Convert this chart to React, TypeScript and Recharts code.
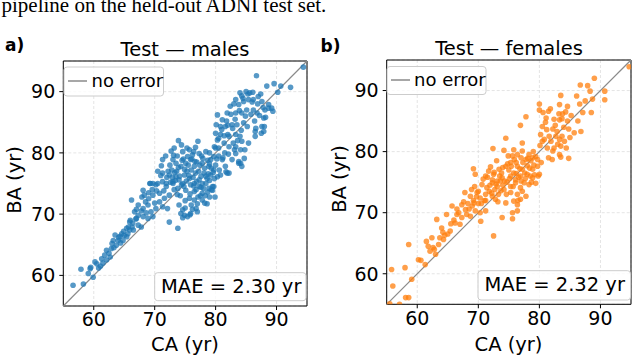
import React from 'react';
import { ScatterChart, Scatter, XAxis, YAxis, CartesianGrid, ReferenceLine, ReferenceArea } from 'recharts';

const axisTicks = [60, 70, 80, 90];
const axisDomain: [number, number] = [55, 95];

const maleCA = [
  56.6, 57.9, 58.3, 59.4, 59.1, 59.9, 59.5, 60.2, 60.5, 61.1, 61.3, 61.8, 62.1, 62.1, 62.7, 62.9, 63.2, 63.5, 63.7, 64.0,
  64.3, 64.6, 64.8, 65.4, 65.4, 65.7, 65.9, 65.9, 66.2, 66.4, 66.5, 66.7, 67.3, 67.3, 67.3, 67.8, 68.1, 68.1, 68.1, 68.3,
  68.9, 68.9, 69.2, 69.3, 69.4, 69.7, 69.7, 69.7, 70.2, 70.2, 70.5, 70.8, 71.1, 71.3, 71.3, 71.3, 71.3, 71.6, 71.9, 71.9,
  72.1, 72.4, 72.4, 72.4, 73.0, 73.0, 73.0, 73.5, 73.5, 73.8, 73.8, 73.9, 74.0, 74.0, 74.3, 74.3, 74.6, 74.6, 74.6, 74.9,
  74.9, 75.1, 75.1, 75.4, 75.4, 75.7, 75.7, 75.7, 75.9, 75.9, 75.9, 76.2, 76.5, 76.5, 76.5, 76.5, 76.7, 76.7, 77.0, 77.0,
  77.1, 77.3, 77.3, 77.3, 77.8, 77.8, 77.8, 77.8, 78.1, 78.4, 78.4, 78.6, 78.6, 78.9, 78.9, 79.2, 79.2, 79.5, 79.5, 79.7,
  79.7, 79.7, 80.0, 80.1, 80.3, 80.3, 80.3, 80.5, 80.6, 80.8, 80.8, 81.1, 81.1, 81.4, 81.6, 81.6, 81.7, 81.9, 81.9, 82.2,
  82.2, 82.2, 82.4, 82.7, 82.7, 82.8, 83.1, 83.3, 83.3, 83.3, 83.3, 83.3, 83.5, 83.8, 83.8, 83.8, 84.0, 84.1, 84.1, 84.3,
  84.3, 84.3, 84.3, 84.6, 84.6, 84.7, 84.8, 85.1, 85.3, 85.4, 85.4, 86.1, 86.2, 86.2, 86.5, 86.5, 86.6, 86.7, 86.8, 87.0,
  87.5, 87.6, 87.6, 87.9, 87.9, 88.0, 88.1, 88.4, 88.7, 88.7, 89.2, 89.4, 89.6, 90.2, 90.7, 92.3, 94.4,
  72.8, 73.2, 73.6, 74.2, 74.8, 75.3, 75.6, 76.0, 76.3, 76.8, 77.2, 77.6, 78.0, 78.2, 78.8, 79.0, 79.3, 79.8, 77.5, 76.0,
  75.0, 78.3, 79.0, 72.0, 72.6, 73.3, 73.7, 74.5, 76.9, 77.7, 79.0, 78.7, 80.0, 80.5, 81.5, 82.0, 79.8, 71.5, 70.8, 70.0,
  69.0, 67.8, 68.6, 66.9, 66.0, 65.0, 64.4, 63.0,
  72.2, 72.5, 72.9, 73.1, 73.4, 73.7, 73.9, 74.1, 74.4, 74.7, 74.9, 75.2, 75.5, 75.8, 76.1, 76.4, 76.6, 76.9, 77.1, 77.4,
  77.6, 77.9, 78.2, 78.4, 78.7, 79.0, 79.3, 79.6, 79.9, 80.2, 75.0, 76.2, 74.6, 75.8, 76.8, 71.0, 70.5, 71.8, 72.7, 73.2,
  74.4, 75.3, 76.4, 70.3, 69.6, 69.0, 68.5, 67.9, 67.0,
  80.5, 80.8, 81.2, 81.4, 81.8, 82.1, 82.5, 82.9, 83.2, 83.6, 83.9, 84.2, 84.5, 84.9, 85.2, 85.6, 85.8, 86.0, 86.4, 86.9,
  87.2, 87.4, 87.8, 88.2, 85.0, 84.0, 83.0, 82.0, 81.0, 80.0,
  60.8, 61.5, 62.5, 63.3, 64.1, 64.9, 65.6, 66.3, 67.0,
];
const maleBA = [
  58.4, 61.0, 58.6, 61.1, 60.3, 59.7, 61.3, 62.2, 61.9, 61.5, 62.7, 63.3, 64.1, 62.5, 63.0, 64.4, 65.7, 66.6, 64.9, 65.7,
  66.4, 66.8, 65.7, 67.7, 66.3, 67.9, 68.7, 67.4, 72.3, 68.5, 67.4, 70.4, 71.5, 69.8, 68.2, 67.9, 70.9, 69.6, 73.9, 73.1,
  71.5, 69.3, 75.0, 75.0, 70.4, 73.1, 69.6, 75.0, 70.9, 74.8, 75.0, 73.4, 77.9, 78.9, 76.7, 75.3, 71.2, 72.6, 75.0, 74.5,
  70.9, 76.4, 73.1, 68.7, 78.9, 75.3, 75.0, 78.3, 76.1, 74.2, 67.7, 82.0, 75.6, 71.5, 77.8, 70.1, 80.2, 75.0, 70.7, 76.4,
  69.8, 78.3, 73.9, 79.4, 69.6, 80.5, 75.8, 72.6, 78.9, 74.8, 70.1, 79.7, 77.8, 75.0, 73.7, 72.3, 80.9, 76.7, 71.7, 70.4,
  81.9, 79.9, 75.6, 74.5, 78.3, 75.0, 73.4, 72.3, 76.7, 80.2, 75.0, 75.8, 71.7, 77.8, 74.2, 78.9, 76.4, 74.5, 73.9, 79.4,
  77.2, 74.5, 83.2, 84.6, 86.2, 82.1, 76.1, 82.4, 77.2, 84.3, 76.4, 85.4, 78.9, 81.6, 84.3, 77.8, 76.9, 86.5, 76.7, 82.7,
  81.0, 76.7, 87.6, 84.6, 78.9, 84.0, 80.5, 88.7, 86.5, 83.0, 81.0, 79.9, 84.6, 87.9, 78.6, 78.3, 82.7, 80.5, 78.3, 89.3,
  86.5, 81.9, 77.8, 88.4, 84.9, 79.1, 80.5, 87.0, 89.6, 88.7, 81.6, 89.9, 88.7, 87.0, 83.5, 82.7, 84.0, 92.6, 86.5, 89.2,
  83.2, 88.4, 84.3, 85.7, 83.5, 84.3, 87.0, 90.9, 87.9, 87.3, 87.3, 86.8, 91.3, 89.9, 90.9, 90.7, 94.0,
  77.2, 74.0, 77.0, 73.0, 74.5, 77.0, 76.3, 77.2, 76.0, 74.0, 77.0, 76.2, 74.2, 77.5, 76.6, 75.5, 77.5, 75.8, 73.0, 71.5,
  71.0, 73.0, 72.8, 76.0, 75.2, 76.8, 79.5, 78.8, 78.5, 79.5, 80.0, 78.8, 78.0, 79.5, 80.0, 83.0, 81.0, 73.8, 72.0, 71.8,
  72.5, 70.5, 70.2, 69.2, 69.0, 66.5, 65.3, 65.2,
  77.0, 78.0, 76.0, 79.6, 75.5, 73.2, 77.6, 76.2, 74.8, 79.0, 77.3, 75.4, 78.0, 73.3, 79.0, 74.6, 78.6, 75.3, 72.8, 78.0,
  74.4, 79.1, 71.8, 76.2, 73.6, 78.2, 74.0, 76.8, 72.8, 79.0, 72.2, 70.8, 69.4, 69.9, 70.9, 76.3, 77.0, 79.5, 80.3, 80.8,
  81.3, 80.8, 80.2, 73.8, 74.0, 73.5, 72.0, 72.8, 70.8,
  80.8, 83.0, 79.2, 82.8, 85.2, 79.8, 86.3, 81.6, 85.5, 82.0, 86.9, 83.7, 88.9, 86.0, 84.3, 89.8, 86.3, 88.3, 85.2, 88.0,
  86.1, 89.6, 87.4, 85.8, 90.0, 89.8, 88.0, 84.5, 83.8, 80.8,
  61.2, 62.0, 63.6, 64.5, 66.2, 67.2, 66.8, 67.9, 69.3,
];

const femaleCA = [
  55.5, 55.8, 56.0, 57.1, 58.0, 58.1, 58.6, 58.6, 59.1, 60.2, 60.6, 61.3, 61.5, 61.8, 62.1, 62.4, 62.6, 63.0, 63.2, 63.7,
  64.0, 64.3, 64.8, 65.4, 65.7, 66.2, 66.5, 67.0, 67.3, 67.3, 67.8, 67.9, 68.1, 68.7, 68.7, 69.0, 69.2, 69.4, 69.5, 69.5,
  69.8, 70.3, 70.3, 70.4, 70.6, 71.2, 71.2, 71.2, 71.4, 71.7, 72.3, 72.3, 72.3, 72.4, 72.5, 72.5, 72.8, 73.1, 73.1, 73.4,
  73.6, 73.9, 73.9, 74.2, 74.2, 74.5, 74.5, 74.5, 74.9, 75.3, 75.3, 75.3, 75.3, 75.6, 75.6, 75.6, 75.8, 75.8, 76.1, 76.1,
  76.4, 76.4, 76.4, 76.4, 76.4, 76.9, 76.9, 76.9, 76.9, 77.2, 77.2, 77.2, 77.2, 77.5, 77.8, 77.8, 77.8, 78.0, 78.0, 78.3,
  78.3, 78.9, 78.9, 78.9, 79.4, 79.7, 79.7, 80.0, 80.0, 80.0, 80.1, 80.2, 80.5, 80.5, 80.6, 81.1, 81.2, 81.3, 81.5, 81.6,
  81.9, 82.1, 82.2, 82.2, 82.4, 82.4, 82.7, 83.2, 83.3, 83.3, 83.3, 83.3, 83.5, 83.5, 83.5, 83.7, 83.7, 83.8, 84.1, 84.4,
  84.6, 84.6, 84.8, 84.8, 85.2, 85.7, 86.1, 86.6, 86.7, 86.8, 87.1, 87.9, 88.3, 88.5, 89.0, 90.7, 90.7, 94.7,
  71.8, 72.0, 72.7, 73.3, 73.8, 74.0, 74.7, 75.0, 75.8, 76.2, 76.6, 77.0, 77.6, 78.5, 79.2, 79.0, 78.6, 73.0, 71.0, 70.0,
  69.2, 68.3, 66.8, 66.0, 65.0, 64.5, 63.5, 62.8,
  70.0, 70.5, 70.8, 71.2, 71.5, 71.9, 72.2, 72.6, 72.9, 73.2, 73.5, 73.7, 74.0, 74.3, 74.6, 74.8, 75.1, 75.4, 75.7, 75.9,
  76.2, 76.5, 76.8, 77.0, 77.3, 77.7, 78.1, 78.4, 78.7, 79.1, 79.4, 79.8, 80.3, 68.5, 68.9, 69.3, 69.7, 67.6, 66.5, 65.5,
  64.2,
  81.0, 81.8, 82.6, 83.0, 84.0, 84.3, 85.0, 81.5, 82.9, 80.8, 86.3, 87.5, 88.7,
];
const femaleBA = [
  55.1, 60.7, 58.0, 55.0, 61.0, 56.1, 56.1, 64.8, 59.1, 62.3, 62.2, 61.5, 65.3, 64.5, 63.7, 65.9, 64.3, 63.2, 68.9, 65.9,
  67.5, 65.6, 69.7, 67.0, 71.1, 68.3, 69.7, 68.1, 71.3, 69.2, 73.3, 70.5, 69.7, 72.7, 69.4, 71.1, 77.2, 74.3, 76.3, 70.3,
  73.3, 72.4, 70.0, 68.6, 74.6, 76.0, 73.0, 70.3, 74.1, 76.8, 75.4, 74.9, 72.7, 80.5, 76.3, 66.2, 72.2, 75.2, 74.3, 77.1,
  75.2, 75.7, 69.2, 80.2, 73.8, 82.2, 77.6, 71.6, 79.3, 78.2, 76.0, 74.3, 73.3, 79.3, 70.0, 69.0, 80.3, 71.9, 75.4, 74.9,
  79.5, 77.6, 73.0, 71.3, 70.3, 84.3, 76.0, 74.1, 72.2, 81.4, 80.1, 77.1, 73.5, 74.9, 85.7, 78.7, 72.7, 77.7, 76.3, 79.5,
  74.6, 79.0, 77.1, 75.7, 74.8, 78.7, 77.6, 87.8, 86.8, 76.3, 81.0, 82.8, 84.1, 81.7, 86.4, 85.5, 83.6, 80.6, 86.6, 82.5,
  81.7, 78.7, 83.7, 80.1, 85.3, 80.6, 82.5, 86.2, 87.7, 85.2, 82.0, 79.5, 89.2, 80.9, 79.1, 85.4, 82.5, 86.2, 81.7, 80.6,
  87.4, 85.0, 83.7, 78.9, 85.9, 83.1, 89.1, 87.8, 90.9, 83.3, 86.4, 90.8, 89.9, 86.4, 92.0, 89.9, 88.5, 93.9,
  73.5, 77.5, 73.8, 73.0, 76.5, 74.5, 75.0, 77.0, 76.5, 78.2, 75.8, 79.0, 76.5, 76.0, 76.2, 80.0, 78.5, 78.5, 72.0, 71.5,
  72.0, 71.5, 70.0, 68.8, 66.5, 66.3, 64.8, 64.0,
  73.5, 71.5, 75.5, 72.0, 75.8, 74.5, 73.2, 76.6, 74.7, 71.8, 76.0, 73.6, 77.4, 75.2, 73.0, 78.0, 75.6, 77.6, 74.3, 78.7,
  76.4, 72.0, 77.2, 75.2, 78.2, 75.6, 78.9, 77.3, 75.0, 77.8, 79.2, 76.0, 78.2, 70.6, 73.8, 71.6, 72.6, 71.8, 70.6, 68.2,
  66.8,
  84.8, 87.0, 84.3, 81.2, 84.0, 86.5, 82.3, 79.0, 83.3, 82.0, 85.0, 88.3, 88.6,
];

const maleData = maleCA.map((ca, i) => ({ ca, ba: maleBA[i] }));
const femaleData = femaleCA.map((ca, i) => ({ ca, ba: femaleBA[i] }));

const FONT = '"DejaVu Sans", sans-serif';
const SERIF = '"Liberation Serif", "Times New Roman", serif';

type PanelProps = {
  data: { ca: number; ba: number }[];
  color: string;
  margin: { top: number; right: number; bottom: number; left: number };
};

function Panel({ data, color, margin }: PanelProps) {
  return (
    <ScatterChart width={316} height={356} margin={margin}>
      <CartesianGrid stroke="#dddddd" strokeDasharray="3 2" strokeWidth={0.8} />
      <XAxis
        type="number"
        dataKey="ca"
        domain={axisDomain}
        ticks={axisTicks}
        allowDataOverflow
        interval={0}
        height={30}
        axisLine={false}
        tickLine={{ stroke: '#000' }}
        tickSize={4}
        tickMargin={3}
        tick={{ fill: '#000', fontSize: 19, fontFamily: FONT }}
      />
      <YAxis
        type="number"
        dataKey="ba"
        domain={axisDomain}
        ticks={axisTicks}
        allowDataOverflow
        interval={0}
        width={60}
        axisLine={false}
        tickLine={{ stroke: '#000' }}
        tickSize={4}
        tickMargin={4}
        tick={{ fill: '#000', fontSize: 19, fontFamily: FONT }}
      />
      <Scatter
        data={data}
        isAnimationActive={false}
        shape={(p: any) => <circle cx={p.cx} cy={p.cy} r={2.8} fill={color} fillOpacity={0.75} />}
      />
      <ReferenceLine
        segment={[{ x: 55, y: 55 }, { x: 95, y: 95 }]}
        stroke="#8a8a8a"
        strokeWidth={1.2}
        ifOverflow="visible"
      />
      <ReferenceArea x1={55} x2={95} y1={55} y2={95} fill="none" stroke="#000" strokeWidth={1} ifOverflow="visible" />
    </ScatterChart>
  );
}

export default function App() {
  return (
    <div style={{ position: 'relative', width: 632, height: 356, background: '#fff', overflow: 'hidden' }}>
      <style>{'body{margin:0}'}</style>
      <div style={{ position: 'absolute', left: 0, top: 0 }}>
        <Panel data={maleData} color="#1f77b4" margin={{ top: 61, right: 9, bottom: 20, left: 3.3 }} />
      </div>
      <div style={{ position: 'absolute', left: 316, top: 0 }}>
        <Panel data={femaleData} color="#ff7f0e" margin={{ top: 60, right: 1, bottom: 21.7, left: 10.7 }} />
      </div>
      <svg width={632} height={356} style={{ position: 'absolute', left: 0, top: 0, pointerEvents: 'none' }}>
        <text x={1.5} y={11.5} fontFamily={SERIF} fontSize={21} fill="#000">pipeline on the held-out ADNI test set.</text>
        <text x={5} y={50.5} fontFamily={FONT} fontSize={17} fontWeight="bold" fill="#000">a)</text>
        <text x={320.5} y={51.5} fontFamily={FONT} fontSize={17} fontWeight="bold" fill="#000">b)</text>
        <text x={185} y={56} textAnchor="middle" fontFamily={FONT} fontSize={19.5} fill="#000">Test — males</text>
        <text x={509} y={55} textAnchor="middle" fontFamily={FONT} fontSize={19.5} fill="#000">Test — females</text>
        <text x={185} y={351} textAnchor="middle" fontFamily={FONT} fontSize={19.5} fill="#000">CA (yr)</text>
        <text x={508.5} y={351} textAnchor="middle" fontFamily={FONT} fontSize={19.5} fill="#000">CA (yr)</text>
        <text transform="translate(21,180) rotate(-90)" textAnchor="middle" fontFamily={FONT} fontSize={19.5} fill="#000">BA (yr)</text>
        <text transform="translate(346,179) rotate(-90)" textAnchor="middle" fontFamily={FONT} fontSize={19.5} fill="#000">BA (yr)</text>

        <rect x={64} y={67} width={99.5} height={29} rx={3} fill="#fff" fillOpacity={0.8} stroke="#cccccc" />
        <line x1={68} x2={87} y1={81} y2={81} stroke="#8a8a8a" strokeWidth={1.5} />
        <text x={91.5} y={86.5} fontFamily={FONT} fontSize={18} fill="#000">no error</text>

        <rect x={387} y={66.5} width={99} height={28} rx={3} fill="#fff" fillOpacity={0.8} stroke="#cccccc" />
        <line x1={391} x2={410} y1={80} y2={80} stroke="#8a8a8a" strokeWidth={1.5} />
        <text x={414} y={85.5} fontFamily={FONT} fontSize={18} fill="#000">no error</text>

        <rect x={154.7} y={272.7} width={151.3} height={28} rx={3} fill="#fff" fillOpacity={0.8} stroke="#cccccc" />
        <text x={161} y={292.5} fontFamily={FONT} fontSize={19.5} fill="#000">MAE = 2.30 yr</text>

        <rect x={478} y={270.7} width={152.5} height={29.3} rx={3} fill="#fff" fillOpacity={0.8} stroke="#cccccc" />
        <text x={484.5} y={291} fontFamily={FONT} fontSize={19.5} fill="#000">MAE = 2.32 yr</text>
      </svg>
    </div>
  );
}
